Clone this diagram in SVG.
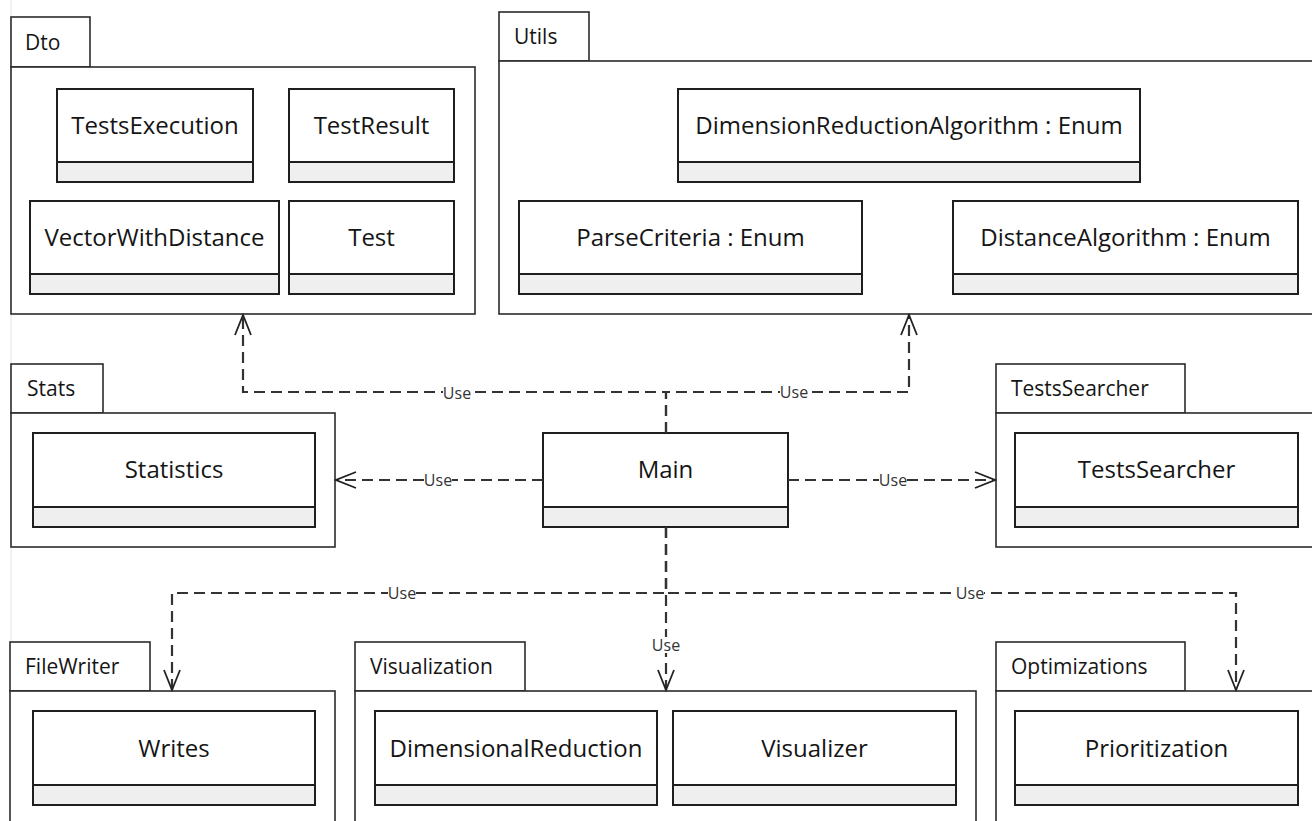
<svg xmlns="http://www.w3.org/2000/svg" width="1312" height="821" viewBox="0 0 1312 821">
<style>
.pkg{fill:#fff;stroke:#2b2b2b;stroke-width:1.6}
.cls{fill:#fff;stroke:#1e1e1e;stroke-width:2}
.cmp{fill:#efefef;stroke:#1e1e1e;stroke-width:2}
.name{font-family:"Open Sans","Noto Sans","DejaVu Sans",sans-serif;font-size:24px;fill:#151515;text-anchor:middle}
.plbl{font-family:"Open Sans","Noto Sans","DejaVu Sans",sans-serif;font-size:21px;fill:#151515}
.dep{fill:none;stroke:#333;stroke-width:2.2;stroke-dasharray:11 6}
.lbl{font-family:"Open Sans","Noto Sans","DejaVu Sans",sans-serif;font-size:16px;fill:#333;text-anchor:middle}
.lbg{fill:#fff}
</style>
<defs>
<marker id="open" markerUnits="userSpaceOnUse" markerWidth="24" markerHeight="20" refX="0" refY="0" viewBox="-22 -10 24 20" orient="auto">
<path d="M-20,-8 L0,0 L-20,8" fill="none" stroke="#222" stroke-width="1.8" stroke-dasharray="none"/>
</marker>
</defs>
<rect width="1312" height="821" fill="#fff"/>
<line x1="11" y1="0" x2="11" y2="821" stroke="#e4e4e4" stroke-width="1"/>

<g id="pkg-dto">
<rect class="pkg" x="11" y="17" width="79" height="50"/>
<rect class="pkg" x="11" y="67" width="464" height="247"/>
<text class="plbl" x="25" y="49.5">Dto</text>
<g id="cls-testsexecution"><rect class="cls" x="57" y="89" width="196" height="93"/><rect class="cmp" x="57" y="162" width="196" height="20"/><text class="name" x="155" y="134">TestsExecution</text></g>
<g id="cls-testresult"><rect class="cls" x="289" y="89" width="165" height="93"/><rect class="cmp" x="289" y="162" width="165" height="20"/><text class="name" x="371.5" y="134">TestResult</text></g>
<g id="cls-vectorwithdistance"><rect class="cls" x="30" y="201" width="249" height="93"/><rect class="cmp" x="30" y="274" width="249" height="20"/><text class="name" x="154.5" y="246">VectorWithDistance</text></g>
<g id="cls-test"><rect class="cls" x="289" y="201" width="165" height="93"/><rect class="cmp" x="289" y="274" width="165" height="20"/><text class="name" x="371.5" y="246">Test</text></g>
</g>

<g id="pkg-utils">
<rect class="pkg" x="499" y="12" width="90" height="49"/>
<rect class="pkg" x="499" y="61" width="830" height="253"/>
<text class="plbl" x="514" y="44">Utils</text>
<g id="cls-dimred"><rect class="cls" x="678" y="89" width="462" height="93"/><rect class="cmp" x="678" y="162" width="462" height="20"/><text class="name" x="909" y="134">DimensionReductionAlgorithm : Enum</text></g>
<g id="cls-parsecriteria"><rect class="cls" x="519" y="201" width="343" height="93"/><rect class="cmp" x="519" y="274" width="343" height="20"/><text class="name" x="690.5" y="246">ParseCriteria : Enum</text></g>
<g id="cls-distancealgorithm"><rect class="cls" x="953" y="201" width="345" height="93"/><rect class="cmp" x="953" y="274" width="345" height="20"/><text class="name" x="1125.5" y="246">DistanceAlgorithm : Enum</text></g>
</g>

<g id="pkg-stats">
<rect class="pkg" x="11" y="364" width="92" height="49"/>
<rect class="pkg" x="11" y="413" width="324" height="134"/>
<text class="plbl" x="27" y="396">Stats</text>
<g id="cls-statistics"><rect class="cls" x="33" y="433" width="282" height="94"/><rect class="cmp" x="33" y="507" width="282" height="20"/><text class="name" x="174" y="478">Statistics</text></g>
</g>

<g id="cls-main"><rect class="cls" x="543" y="433" width="245" height="94"/><rect class="cmp" x="543" y="507" width="245" height="20"/><text class="name" x="665.5" y="478">Main</text></g>

<g id="pkg-testssearcher">
<rect class="pkg" x="996" y="364" width="189" height="49"/>
<rect class="pkg" x="996" y="413" width="330" height="134"/>
<text class="plbl" x="1011" y="396">TestsSearcher</text>
<g id="cls-testssearcher"><rect class="cls" x="1015" y="433" width="283" height="94"/><rect class="cmp" x="1015" y="507" width="283" height="20"/><text class="name" x="1156.5" y="478">TestsSearcher</text></g>
</g>

<g id="pkg-filewriter">
<rect class="pkg" x="10" y="642" width="140" height="49"/>
<rect class="pkg" x="10" y="691" width="325" height="140"/>
<text class="plbl" x="25" y="674">FileWriter</text>
<g id="cls-writes"><rect class="cls" x="33" y="711" width="282" height="94"/><rect class="cmp" x="33" y="785" width="282" height="20"/><text class="name" x="174" y="756.5">Writes</text></g>
</g>

<g id="pkg-visualization">
<rect class="pkg" x="355" y="642" width="170" height="49"/>
<rect class="pkg" x="355" y="691" width="621" height="140"/>
<text class="plbl" x="370" y="674">Visualization</text>
<g id="cls-dimensionalreduction"><rect class="cls" x="375" y="711" width="282" height="94"/><rect class="cmp" x="375" y="785" width="282" height="20"/><text class="name" x="516" y="756.5">DimensionalReduction</text></g>
<g id="cls-visualizer"><rect class="cls" x="673" y="711" width="283" height="94"/><rect class="cmp" x="673" y="785" width="283" height="20"/><text class="name" x="814.5" y="756.5">Visualizer</text></g>
</g>

<g id="pkg-optimizations">
<rect class="pkg" x="996" y="642" width="189" height="49"/>
<rect class="pkg" x="996" y="691" width="330" height="140"/>
<text class="plbl" x="1011" y="674">Optimizations</text>
<g id="cls-prioritization"><rect class="cls" x="1015" y="711" width="283" height="94"/><rect class="cmp" x="1015" y="785" width="283" height="20"/><text class="name" x="1156.5" y="756.5">Prioritization</text></g>
</g>

<g id="connectors">
<path class="dep" d="M666,433 V392 H243 V315" marker-end="url(#open)"/>
<path class="dep" d="M666,433 V392 H909 V315" marker-end="url(#open)"/>
<path class="dep" d="M543,480 H336" marker-end="url(#open)"/>
<path class="dep" d="M788,480 H995" marker-end="url(#open)"/>
<path class="dep" d="M666,527 V593 H172 V690" marker-end="url(#open)"/>
<path class="dep" d="M666,527 V690" marker-end="url(#open)"/>
<path class="dep" d="M666,527 V593 H1236 V690" marker-end="url(#open)"/>
<g id="labels">
<rect class="lbg" x="443" y="386" width="28" height="15"/><text class="lbl" x="457" y="399">Use</text>
<rect class="lbg" x="780" y="386" width="28" height="15"/><text class="lbl" x="794" y="398">Use</text>
<rect class="lbg" x="424" y="474" width="28" height="15"/><text class="lbl" x="438" y="486">Use</text>
<rect class="lbg" x="879" y="474" width="28" height="15"/><text class="lbl" x="893" y="486">Use</text>
<rect class="lbg" x="388" y="587" width="28" height="15"/><text class="lbl" x="402" y="599">Use</text>
<rect class="lbg" x="956" y="587" width="28" height="15"/><text class="lbl" x="970" y="599">Use</text>
<rect class="lbg" x="652" y="637" width="28" height="16"/><text class="lbl" x="666" y="651">Use</text>
</g>
</g>
</svg>
